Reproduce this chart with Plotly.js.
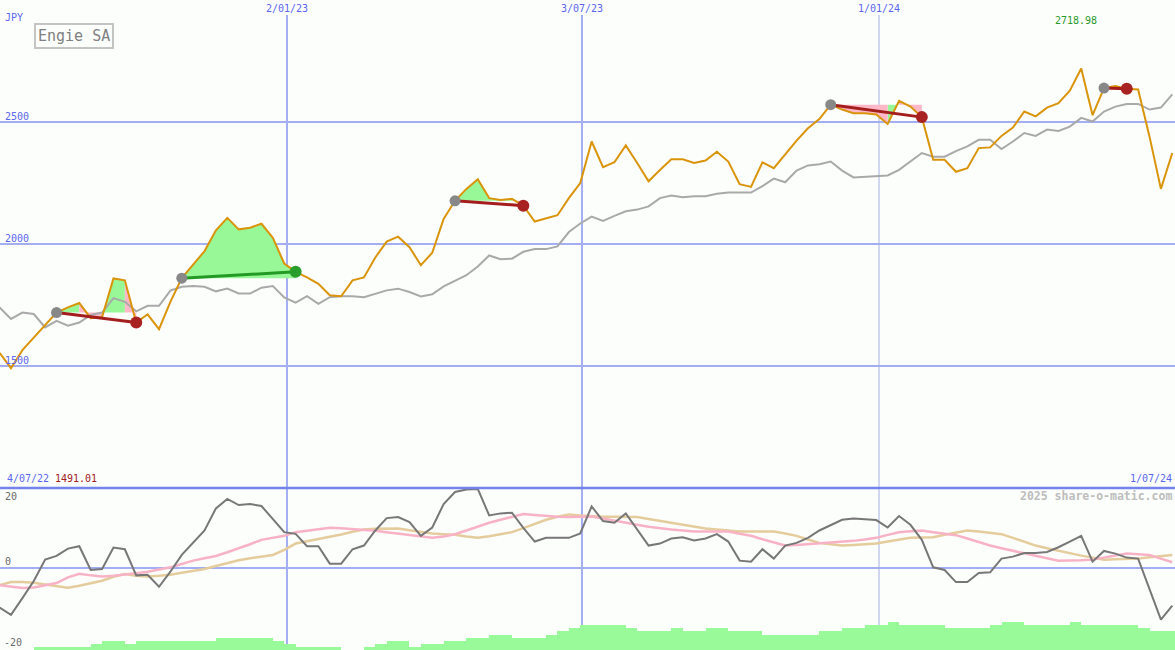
<!DOCTYPE html>
<html>
<head>
<meta charset="utf-8">
<script src="https://cdn.plot.ly/plotly-3.0.1.min.js"></script>
<style>html,body{margin:0;padding:0;background:#fcfefc;}#chart{width:1175px;height:650px;}</style>
</head>
<body>
<div id="chart"></div>
<script>
// ---- DATA (weekly, index 0 = first week shown) ----
const price = [
1554, 1491.01, 1565, 1616, 1670, 1719, 1740, 1758, 1696, 1701,
1859, 1851, 1678, 1712, 1651, 1763, 1860, 1917, 1971, 2056,
2107, 2060, 2067, 2083, 2025, 1920, 1886, 1863, 1837, 1790,
1786, 1851, 1863, 1945, 2010, 2030, 1987, 1913, 1964, 2103,
2177, 2226, 2265, 2188, 2180, 2185, 2157, 2092, 2106, 2118,
2188, 2250, 2420, 2315, 2335, 2404, 2332, 2257, 2303, 2347,
2347, 2332, 2342, 2378, 2338, 2245, 2234, 2335, 2311, 2366,
2424, 2474, 2512, 2571, 2551, 2536, 2536, 2531, 2492, 2587,
2563, 2520, 2345, 2345, 2296, 2311, 2393, 2396, 2443, 2477,
2543, 2523, 2559, 2577, 2628, 2718.98, 2528, 2639, 2647, 2636,
2633, 2440, 2226, 2373];

const avgLine = [
1740, 1693, 1719, 1713, 1658, 1685, 1665, 1678, 1709, 1719,
1778, 1763, 1724, 1747, 1747, 1809, 1825, 1828, 1825, 1806,
1817, 1797, 1797, 1821, 1828, 1781, 1760, 1786, 1755, 1782,
1786, 1786, 1782, 1795, 1810, 1817, 1803, 1785, 1794, 1826,
1850, 1872, 1908, 1953, 1938, 1940, 1968, 1979, 1979, 1990,
2049, 2084, 2112, 2095, 2115, 2134, 2141, 2154, 2188, 2199,
2192, 2196, 2196, 2206, 2211, 2211, 2211, 2237, 2268, 2253,
2301, 2322, 2327, 2338, 2301, 2273, 2276, 2276, 2281, 2304,
2338, 2373, 2358, 2358, 2381, 2400, 2427, 2427, 2389, 2420,
2455, 2443, 2469, 2463, 2481, 2517, 2502, 2543, 2563, 2574,
2574, 2551, 2559, 2613];

const osc = [
-11.8, -14.0, -9.0, -3.9, 2.5, 3.6, 5.8, 6.5, -0.6, -0.3,
6.1, 5.6, -2.2, -2.0, -5.6, -1.1, 3.9, 7.5, 11.2, 17.8,
20.6, 18.8, 19.1, 18.5, 14.6, 10.7, 10.2, 6.5, 6.5, 1.3,
1.3, 5.6, 6.7, 11.2, 14.9, 15.2, 13.7, 9.6, 12.1, 19.1,
22.7, 23.4, 23.6, 15.7, 16.3, 16.5, 12.0, 7.9, 9.0, 9.0,
9.0, 10.3, 18.4, 14.0, 13.5, 16.3, 11.5, 6.7, 7.3, 8.8,
9.2, 8.2, 8.8, 10.1, 7.9, 2.2, 1.9, 5.6, 2.8, 6.7,
7.5, 9.0, 11.2, 12.9, 14.4, 14.8, 14.6, 14.3, 12.1, 15.5,
12.9, 8.4, 0.2, -0.6, -4.2, -4.2, -1.5, -1.3, 2.8, 3.4,
4.5, 4.5, 4.8, 6.2, 7.9, 9.6, 1.9, 5.1, 4.3, 3.1,
2.8, -6.2, -15.4, -11.2];

const oscPink = [
-5.1, -5.6, -6.0, -5.8, -5.1, -4.5, -2.8, -1.7, -2.2, -2.5,
-2.3, -2.0, -1.6, -1.1, -0.5, 0.2, 1.2, 2.2, 2.9, 3.6,
4.7, 5.8, 7.1, 8.4, 9.0, 9.6, 10.7, 11.2, 11.7, 12.0,
11.9, 11.7, 11.5, 11.1, 10.7, 10.3, 9.9, 9.4, 9.0, 9.4,
10.1, 11.2, 12.4, 13.5, 14.4, 15.3, 16.1, 15.8, 15.5, 15.3,
15.2, 15.3, 15.4, 14.8, 14.1, 13.5, 12.9, 12.3, 11.8, 11.5,
11.2, 10.9, 10.9, 10.9, 10.9, 10.2, 9.6, 8.6, 7.6, 6.7,
6.9, 7.1, 7.3, 7.6, 7.8, 8.1, 8.5, 9.0, 9.9, 10.7,
11.0, 11.2, 10.7, 10.3, 9.8, 8.8, 7.7, 6.7, 5.9, 5.1,
4.3, 3.6, 2.9, 2.2, 2.2, 2.3, 2.5, 3.1, 3.7, 4.3,
4.1, 3.9, 2.8, 1.7];

const oscTan = [
-5.1, -4.2, -4.2, -4.4, -4.9, -5.5, -5.9, -5.3, -4.5, -3.8,
-2.6, -1.8, -2.3, -2.5, -2.3, -2.0, -1.4, -0.8, -0.3, 0.6,
1.5, 2.3, 2.9, 3.4, 3.9, 5.4, 7.3, 8.0, 8.6, 9.2,
10.0, 10.8, 11.5, 11.7, 11.8, 11.8, 11.3, 10.8, 10.3, 10.1,
9.9, 9.4, 9.0, 9.5, 10.1, 10.7, 11.9, 13.2, 14.4, 15.3,
16.0, 15.7, 15.4, 15.3, 15.3, 15.2, 15.2, 14.6, 14.0, 13.5,
12.9, 12.4, 11.8, 11.5, 11.2, 10.9, 10.9, 10.9, 10.9, 10.3,
9.6, 8.5, 7.5, 7.1, 6.7, 6.9, 7.1, 7.3, 7.9, 8.5,
9.0, 9.1, 9.2, 9.9, 10.6, 11.2, 10.9, 10.5, 10.1, 9.0,
7.8, 6.7, 5.9, 5.1, 4.3, 3.7, 3.1, 2.5, 2.6, 2.7,
2.8, 3.2, 3.5, 3.9];

const volume = [
0,0,0,1,1,1,1,1,2,3,
3,2,3,3,3,3,3,3,3,4,
4,4,4,4,3,2,1,1,1,1,
0,0,1,2,3,3,1,2,2,3,
3,4,4,5,5,4,4,4,5,6,
7,8,8,8,8,7,6,6,6,7,
6,6,7,7,6,6,6,5,5,5,
5,5,6,6,7,7,8,8,9,8,
8,8,8,7,7,7,7,8,9,9,
8,8,8,8,9,8,8,8,8,8,
7,6,6,6];

// signal windows: [start week, end week]
const signalStart = [5, 16, 40, 73, 97];
const signalEnd   = [12, 26, 46, 81, 99];

// vertical date markers (week index) and their labels
const dateMarkIdx = [25.24, 51.15, 77.24];
const dateMarkLabels = ['2/01/23', '3/07/23', '1/01/24'];
const priceTicks = [1500, 2000, 2500];
const startLabel = '4/07/22', endLabel = '1/07/24';
const minLabel = '1491.01', maxLabel = '2718.98';

// ---- BUILD ----
const N = price.length;
const idx = Array.from({length: N}, (_, i) => i);
const W = 1175, H = 650;
const FONT = 'DejaVu Sans Mono, Liberation Mono, monospace';
const BLUE = '#5b66ee';
const GRID = '#a3aff2';

const gX = [], gY = [], pX = [], pY = [];
const traces = [];

// volume
traces.push({type:'bar', x: idx, y: volume, xaxis:'x2', yaxis:'y3', width: 1, offset: 0,
  marker:{color:'#98fa98', line:{width:0}}, hoverinfo:'skip'});

for (let r = 0; r < signalStart.length; r++) {
  const s = signalStart[r], e = signalEnd[r], a = price[s];
  for (let k = s; k < e; k++) {
    const up = price[k+1] > a;
    const X = up ? gX : pX, Y = up ? gY : pY;
    X.push(k, k, k+1, k+1, null);
    Y.push(a, price[k], price[k+1], a, null);
  }
}
traces.push({type:'scatter', mode:'lines', x:gX, y:gY, fill:'toself', fillcolor:'#98f898',
  line:{width:0, color:'rgba(0,0,0,0)'}, hoverinfo:'skip'});
traces.push({type:'scatter', mode:'lines', x:pX, y:pY, fill:'toself', fillcolor:'#ffb8c8',
  line:{width:0, color:'rgba(0,0,0,0)'}, hoverinfo:'skip'});

traces.push({type:'scatter', mode:'lines', x:idx, y:avgLine, line:{color:'#a9a9a9', width:2}});
traces.push({type:'scatter', mode:'lines', x:idx, y:price, line:{color:'#d9940a', width:2}});

for (let r = 0; r < signalStart.length; r++) {
  const s = signalStart[r], e = signalEnd[r];
  const up = price[e] > price[s];
  const col = up ? '#239a23' : '#a41e1e';
  traces.push({type:'scatter', mode:'lines', x:[s, e], y:[price[s], price[e]], line:{color:col, width:3}});
  traces.push({type:'scatter', mode:'markers', x:[s], y:[price[s]], marker:{color:'#888888', size:11}});
  traces.push({type:'scatter', mode:'markers', x:[e], y:[price[e]], marker:{color:up ? '#2a9e2a' : '#a82222', size:12}});
}

traces.push({type:'scatter', mode:'lines', x:idx, y:oscTan, xaxis:'x2', yaxis:'y2', line:{color:'#e4cc9c', width:2.5}});
traces.push({type:'scatter', mode:'lines', x:idx, y:oscPink, xaxis:'x2', yaxis:'y2', line:{color:'#f8b2c6', width:2.5}});
traces.push({type:'scatter', mode:'lines', x:idx, y:osc, xaxis:'x2', yaxis:'y2', line:{color:'#777777', width:2}});

// axis geometry
const xr = [0.0338, 103.238];
const splitPx = 488;
const dTop = 1 - splitPx / H;

const shapes = [];
priceTicks.forEach(v => shapes.push({type:'line', xref:'paper', x0:0, x1:1, yref:'y', y0:v, y1:v,
  line:{color:GRID, width:2}, layer:'below'}));
shapes.push({type:'line', xref:'paper', x0:0, x1:1, yref:'y2', y0:0, y1:0, line:{color:GRID, width:2}, layer:'below'});
const vw = [2, 2, 1];
dateMarkIdx.forEach((v, i) => shapes.push({type:'line', xref:'x', x0:v, x1:v, yref:'paper', y0:0, y1:1 - 15/H,
  line:{color: i === 2 ? '#a8b0e4' : GRID, width: vw[i]}, layer:'below'}));
shapes.push({type:'line', xref:'paper', x0:0, x1:1, yref:'paper', y0:dTop, y1:dTop, line:{color:'#7482ee', width:2.5}});

function ann(text, px, py, xa, color, size, extra) {
  return Object.assign({text: text, xref:'paper', yref:'paper', x: px / W, y: 1 - py / H,
    xanchor: xa, yanchor:'middle', showarrow:false,
    font:{family:FONT, size:size || 10, color:color}}, extra || {});
}
const annotations = [
  ann('JPY', 3, 17, 'left', BLUE),
  ann('Engie SA', 73.5, 36, 'center', '#808080', 15, {bordercolor:'#c4c4c4', borderwidth:2, borderpad:2}),
  ann(maxLabel, 1075.5, 21, 'center', '#2a9a2a'),
  ann(startLabel, 5, 478.5, 'left', BLUE),
  ann(minLabel, 53, 478.5, 'left', '#a02020'),
  ann(endLabel, 1174, 478.5, 'right', BLUE),
  ann('2025 share-o-matic.com', 1174, 496, 'right', '#bdbdbd', 11.5, {font:{family:FONT, size:11.5, color:'#bdbdbd', weight:'bold'}}),
  ann('20', 3, 496.5, 'left', '#6a6a6a'),
  ann('0', 3, 561.5, 'left', '#6a6a6a'),
  ann('-20', 2, 642, 'left', '#6a6a6a')
];
priceTicks.forEach(v => {
  const py = (3000 - v) / 2000 * splitPx;
  annotations.push(ann(String(v), 3, py - 5.5, 'left', BLUE));
});
dateMarkIdx.forEach((v, i) => {
  const px = (v - xr[0]) / (xr[1] - xr[0]) * W;
  annotations.push(ann(dateMarkLabels[i], px, 8.5, 'center', BLUE));
});

const axBase = {showgrid:false, zeroline:false, showticklabels:false, ticks:'', showline:false, fixedrange:true};
const layout = {
  width: W, height: H, margin:{l:0, r:0, t:0, b:0, pad:0},
  paper_bgcolor:'#fcfefc', plot_bgcolor:'#fcfefc', showlegend:false,
  xaxis: Object.assign({}, axBase, {domain:[0,1], range:xr, anchor:'y'}),
  xaxis2: Object.assign({}, axBase, {domain:[0,1], range:xr, anchor:'y2', matches:'x'}),
  yaxis: Object.assign({}, axBase, {domain:[dTop, 1], range:[1000, 3000], anchor:'x'}),
  yaxis2: Object.assign({}, axBase, {domain:[0, dTop], range:[-(H - 568) / 3.35, (568 - splitPx) / 3.35], anchor:'x2'}),
  yaxis3: Object.assign({}, axBase, {overlaying:'y2', range:[0, (H - splitPx) / 3.1], anchor:'x2'}),
  bargap: 0,
  shapes: shapes,
  annotations: annotations
};
Plotly.newPlot('chart', traces, layout, {displayModeBar:false, staticPlot:true});
</script>
</body>
</html>
